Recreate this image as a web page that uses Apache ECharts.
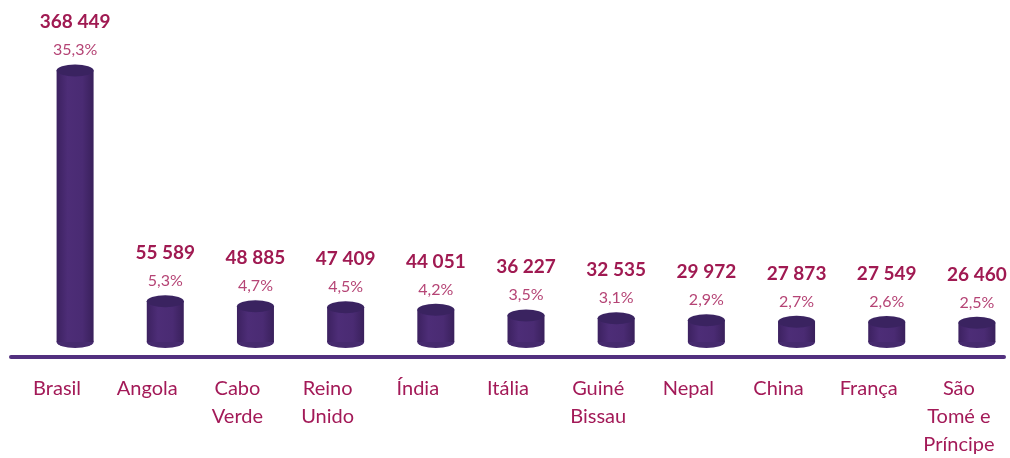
<!DOCTYPE html>
<html>
<head>
<meta charset="utf-8">
<script src="https://cdn.jsdelivr.net/npm/echarts@6/dist/echarts.min.js"></script>
<style>
	html, body { margin: 0; padding: 0; background: #fff; }
	#chart { width: 1010px; height: 458px; }
</style>
</head>
<body>
<div id="chart"></div>
<script>
	// dados
	var paises = ['Brasil', 'Angola', 'Cabo\nVerde', 'Reino\nUnido', 'Índia', 'Itália', 'Guiné\nBissau', 'Nepal', 'China', 'França', 'São\nTomé e\nPríncipe'];
	var valores = [368449, 55589, 48885, 47409, 44051, 36227, 32535, 29972, 27873, 27549, 26460];
	var percentagens = [35.3, 5.3, 4.7, 4.5, 4.2, 3.5, 3.1, 2.9, 2.7, 2.6, 2.5];

	var chart = echarts.init(document.getElementById('chart'));

	function fmtNum(n) {
		return String(n).replace(/\B(?=(\d{3})+(?!\d))/g, ' ');
	}
	function fmtPct(p) {
		return p.toFixed(1).replace('.', ',') + '%';
	}

	var corpo = {
		type: 'linear', x: 0, y: 0, x2: 1, y2: 0,
		colorStops: [
			{ offset: 0, color: '#3c2160' },
			{ offset: 0.3, color: '#4d2d77' },
			{ offset: 0.7, color: '#4a2b73' },
			{ offset: 1, color: '#39205b' }
		]
	};

	var option = {
		animation: false,
		grid: {
			left: 30,
			width: 992,
			top: 47,
			bottom: 116,
			outerBoundsMode: 'none'
		},
		xAxis: {
			type: 'category',
			data: paises,
			axisLine: { show: false },
			axisTick: { show: false },
			axisLabel: {
				interval: 0,
				margin: 33,
				color: '#a31a58',
				fontFamily: 'Lato',
				fontSize: 20,
				lineHeight: 28,
				padding: [0, 36, 0, 0]
			}
		},
		yAxis: {
			type: 'value',
			min: 0,
			max: 400000,
			show: false,
			splitLine: { show: false }
		},
		graphic: [{
			type: 'line',
			shape: { x1: 11, y1: 357, x2: 1004, y2: 357 },
			style: { stroke: '#52307f', lineWidth: 4, lineCap: 'round' },
			z: 0
		}],
		series: [
			{
				// corpo do cilindro
				type: 'bar',
				data: valores,
				barWidth: 37,
				itemStyle: { color: corpo },
				z: 2,
				label: {
					show: true,
					position: 'top',
					distance: 6,
					formatter: function (p) {
						return '{v|' + fmtNum(valores[p.dataIndex]) + '}\n{p|' + fmtPct(percentagens[p.dataIndex]) + '}';
					},
					rich: {
						v: { fontFamily: 'Lato', fontWeight: 'bold', fontSize: 19, color: '#a01a52', lineHeight: 28 },
						p: { fontFamily: 'Lato', fontSize: 16, color: '#b54475', lineHeight: 28 }
					}
				}
			},
			{
				// base
				type: 'pictorialBar',
				data: valores,
				symbol: 'circle',
				symbolSize: [37, 12],
				symbolOffset: [0, '50%'],
				itemStyle: { color: '#462a6e' },
				z: 1
			},
			{
				// topo
				type: 'pictorialBar',
				data: valores,
				symbol: 'circle',
				symbolSize: [37, 12],
				symbolPosition: 'end',
				symbolOffset: [0, '-50%'],
				itemStyle: { color: '#3a2360', borderColor: '#4f3279', borderWidth: 1 },
				z: 3
			}
		]
	};

	chart.setOption(option);
	window.addEventListener('resize', function () {
		chart.resize();
	});
</script>
</body>
</html>
